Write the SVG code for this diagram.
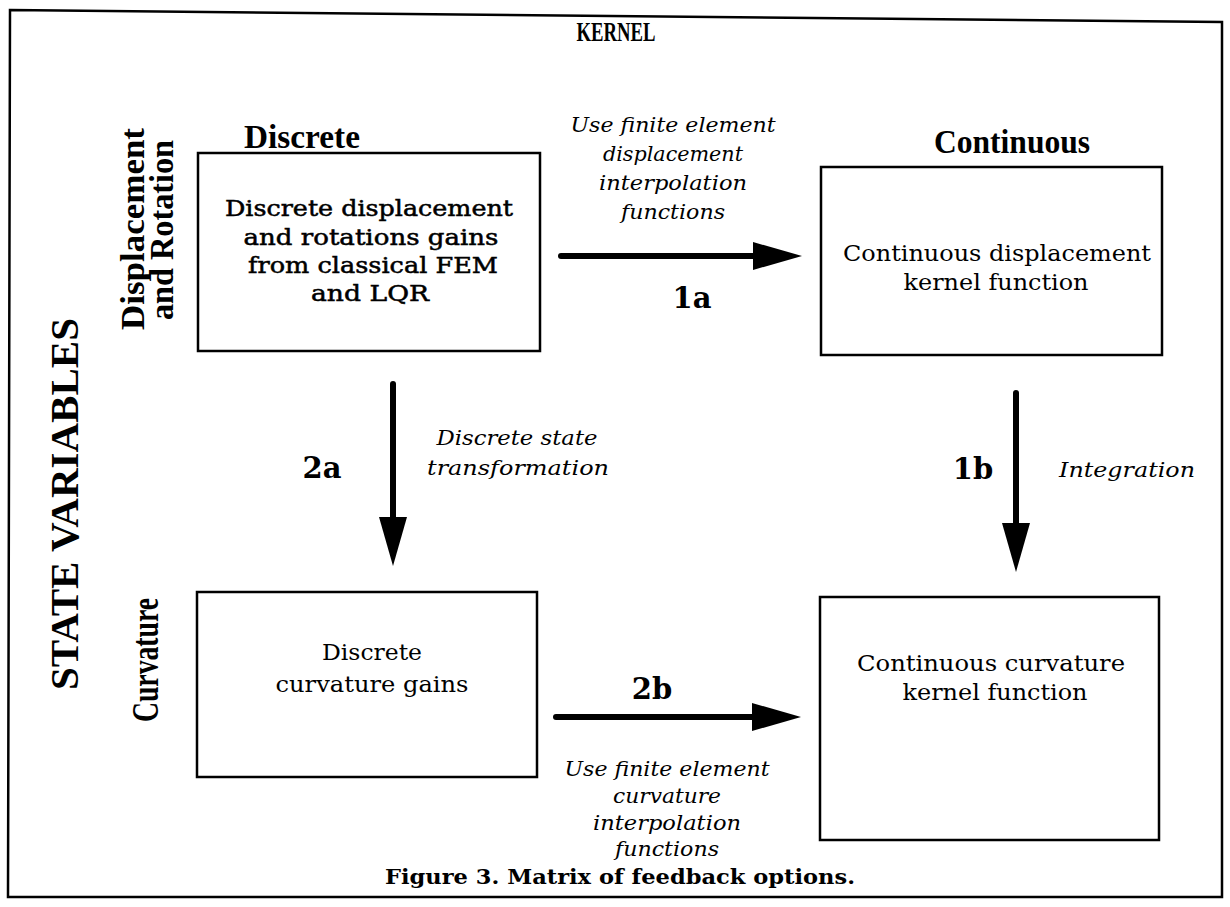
<svg xmlns="http://www.w3.org/2000/svg" width="1230" height="907" viewBox="0 0 1230 907">
<style>
.frame{fill:none;stroke:#000;stroke-width:2.5}
.box{fill:#fff;stroke:#000;stroke-width:2.5}
.conn{stroke:#000;stroke-width:6;stroke-linecap:round;fill:none}
.hdr{font-family:"Liberation Serif",serif;font-weight:bold;fill:#000}
.body{font-family:"DejaVu Serif",serif;font-size:22px;fill:#000;text-anchor:middle}
.semi{stroke:#000;stroke-width:0.5}
.ital{font-family:"DejaVu Serif",serif;font-style:italic;font-size:21px;fill:#000;text-anchor:middle}
.num{font-family:"DejaVu Serif",serif;font-weight:bold;font-size:29px;fill:#000;text-anchor:middle}
.cap{font-family:"DejaVu Serif",serif;font-weight:bold;font-size:21px;fill:#000;text-anchor:middle}
</style>
<defs>
<marker id="ah" markerUnits="userSpaceOnUse" markerWidth="52" markerHeight="30" refX="0" refY="14" orient="auto">
<path d="M0,0 L49,14 L0,28 Z" fill="#000"/>
</marker>
</defs>
<rect width="1230" height="907" fill="#fff"/>
<path class="frame" d="M10,10 L1222,22 L1222,897 L8,897 Z"/>

<g id="titles">
<text class="hdr" x="616" y="41" font-size="27" text-anchor="middle" textLength="79" lengthAdjust="spacingAndGlyphs">KERNEL</text>
<text class="hdr" x="302" y="148" font-size="33" text-anchor="middle" textLength="116" lengthAdjust="spacingAndGlyphs">Discrete</text>
<text class="hdr" x="1012" y="153" font-size="33" text-anchor="middle" textLength="156" lengthAdjust="spacingAndGlyphs">Continuous</text>
<text class="hdr" transform="translate(78,504) rotate(-90)" font-size="41" text-anchor="middle" textLength="372" lengthAdjust="spacingAndGlyphs">STATE VARIABLES</text>
<text class="hdr" transform="translate(144,229) rotate(-90)" font-size="34" text-anchor="middle" textLength="202" lengthAdjust="spacingAndGlyphs">Displacement</text>
<text class="hdr" transform="translate(173,230) rotate(-90)" font-size="34" text-anchor="middle" textLength="180" lengthAdjust="spacingAndGlyphs">and Rotation</text>
<text class="hdr" transform="translate(158,660) rotate(-90)" font-size="37" text-anchor="middle" textLength="124" lengthAdjust="spacingAndGlyphs">Curvature</text>
</g>

<g id="connectors">
<line class="conn" x1="561" y1="256" x2="753" y2="256" marker-end="url(#ah)"/>
<line class="conn" x1="393" y1="384" x2="393" y2="517" marker-end="url(#ah)"/>
<line class="conn" x1="1016" y1="393" x2="1016" y2="523" marker-end="url(#ah)"/>
<line class="conn" x1="556" y1="717" x2="752" y2="717" marker-end="url(#ah)"/>
<text class="ital" x="673" y="132" textLength="205" lengthAdjust="spacingAndGlyphs">Use finite element</text>
<text class="ital" x="673" y="161" textLength="140" lengthAdjust="spacingAndGlyphs">displacement</text>
<text class="ital" x="673" y="190" textLength="148" lengthAdjust="spacingAndGlyphs">interpolation</text>
<text class="ital" x="673" y="219" textLength="104" lengthAdjust="spacingAndGlyphs">functions</text>
<text class="num" x="692" y="308">1a</text>
<text class="num" x="322" y="478">2a</text>
<text class="ital" x="517" y="445" textLength="161" lengthAdjust="spacingAndGlyphs">Discrete state</text>
<text class="ital" x="518" y="475" textLength="182" lengthAdjust="spacingAndGlyphs">transformation</text>
<text class="num" x="973" y="479">1b</text>
<text class="ital" x="1127" y="477" textLength="136" lengthAdjust="spacingAndGlyphs">Integration</text>
<text class="num" x="652" y="699">2b</text>
<text class="ital" x="667" y="776" textLength="205" lengthAdjust="spacingAndGlyphs">Use finite element</text>
<text class="ital" x="667" y="803" textLength="108" lengthAdjust="spacingAndGlyphs">curvature</text>
<text class="ital" x="667" y="830" textLength="148" lengthAdjust="spacingAndGlyphs">interpolation</text>
<text class="ital" x="667" y="856" textLength="104" lengthAdjust="spacingAndGlyphs">functions</text>
</g>

<g id="node-discrete-disp">
<rect class="box" x="198" y="153" width="342" height="198"/>
<text class="body semi" x="369" y="216" textLength="288" lengthAdjust="spacingAndGlyphs">Discrete displacement</text>
<text class="body semi" x="371" y="245" textLength="255" lengthAdjust="spacingAndGlyphs">and rotations gains</text>
<text class="body semi" x="373" y="273" textLength="250" lengthAdjust="spacingAndGlyphs">from classical FEM</text>
<text class="body semi" x="370" y="301" textLength="118" lengthAdjust="spacingAndGlyphs">and LQR</text>
</g>

<g id="node-continuous-disp">
<rect class="box" x="821" y="167" width="341" height="188"/>
<text class="body" x="997" y="261" textLength="308" lengthAdjust="spacingAndGlyphs">Continuous displacement</text>
<text class="body" x="996" y="290" textLength="185" lengthAdjust="spacingAndGlyphs">kernel function</text>
</g>

<g id="node-discrete-curv">
<rect class="box" x="197" y="592" width="340" height="185"/>
<text class="body" x="372" y="660" textLength="100" lengthAdjust="spacingAndGlyphs">Discrete</text>
<text class="body" x="372" y="692" textLength="193" lengthAdjust="spacingAndGlyphs">curvature gains</text>
</g>

<g id="node-continuous-curv">
<rect class="box" x="820" y="597" width="339" height="243"/>
<text class="body" x="991" y="671" textLength="268" lengthAdjust="spacingAndGlyphs">Continuous curvature</text>
<text class="body" x="995" y="700" textLength="185" lengthAdjust="spacingAndGlyphs">kernel function</text>
</g>

<g id="caption">
<text class="cap" x="620" y="884" textLength="470" lengthAdjust="spacingAndGlyphs">Figure 3.  Matrix of feedback options.</text>
</g>
</svg>
